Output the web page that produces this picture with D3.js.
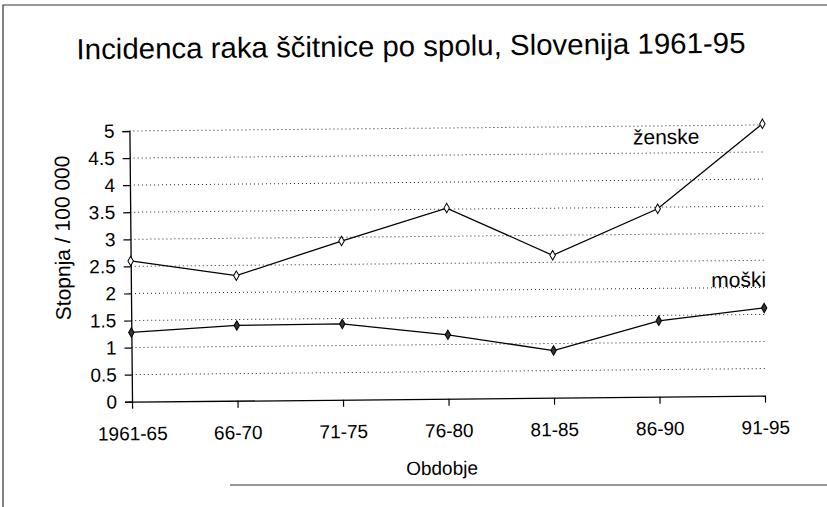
<!DOCTYPE html>
<meta charset="utf-8">
<style>

body, html{
    margin: 0;
    background: white;
}

text{
    font-family: "Liberation Sans", Arial, sans-serif;
    fill: black;
}

.grid line {
  stroke: #222;
  stroke-width: 1px;
  stroke-dasharray: 1,3;
}

.series path.line {
  fill: none;
  stroke: black;
  stroke-width: 1.3px;
}

</style>
<svg></svg>
<script src="https://d3js.org/d3.v7.min.js"></script>
<script>

// obdobja (kategorije na osi x)
var periods = ['1961-65', '66-70', '71-75', '76-80', '81-85', '86-90', '91-95'];

// incidenca na 100 000
var zenske = [2.6, 2.31, 2.93, 3.52, 2.63, 3.47, 5.02];
var moski = [1.28, 1.39, 1.4, 1.18, 0.87, 1.4, 1.62];

var yTicks = [0, 0.5, 1, 1.5, 2, 2.5, 3, 3.5, 4, 4.5, 5];

var width = 827;
var height = 507;

var svg = d3.select('svg')
  .attr('width', width)
  .attr('height', height);

// page edges of the scan
svg.append('path')
  .attr('d', 'M3,507 L3,5 L827,5 M230,485 L827,485')
  .attr('fill', 'none')
  .attr('stroke', '#333')
  .attr('stroke-width', 1.2);

// the scan is a little tilted
var g = svg.append('g')
  .attr('transform', 'rotate(-0.55 413 253)');

var x = d3.scalePoint().domain(periods).range([130.6, 763.6]).padding(0);
var y = d3.scaleLinear().domain([0, 5]).range([399, 128.3]);

g.append('text')
  .attr('x', 413)
  .attr('y', 56)
  .attr('text-anchor', 'middle')
  .attr('font-size', 29)
  .attr('textLength', 669)
  .attr('lengthAdjust', 'spacingAndGlyphs')
  .text('Incidenca raka ščitnice po spolu, Slovenija 1961-95');

// dotted gridlines
g.append('g')
  .attr('class', 'grid')
  .selectAll('line')
  .data(yTicks.filter(function (d) { return d > 0; }))
  .enter().append('line')
  .attr('x1', x.range()[0])
  .attr('x2', x.range()[1])
  .attr('y1', function (d) { return y(d); })
  .attr('y2', function (d) { return y(d); });

var yAxis = g.append('g')
  .attr('transform', 'translate(' + x.range()[0] + ',0)')
  .call(d3.axisLeft(y).tickValues(yTicks).tickSize(7).tickPadding(8).tickFormat(d3.format('')));

var xAxis = g.append('g')
  .attr('transform', 'translate(0,' + y(0) + ')')
  .call(d3.axisBottom(x).tickSize(7).tickSizeOuter(0).tickPadding(18));

[yAxis, xAxis].forEach(function (a) {
  a.select('.domain').attr('stroke', 'black').attr('stroke-width', 1.3);
  a.selectAll('.tick line').attr('stroke', 'black').attr('stroke-width', 1.2);
  a.selectAll('.tick text')
    .attr('font-family', '"Liberation Sans", Arial, sans-serif')
    .attr('font-size', 19)
    .attr('fill', 'black');
});

g.append('text')
  .attr('x', 440)
  .attr('y', 475)
  .attr('text-anchor', 'middle')
  .attr('font-size', 19)
  .text('Obdobje');

g.append('text')
  .attr('transform', 'translate(70,234.6) rotate(-90)')
  .attr('text-anchor', 'middle')
  .attr('font-size', 21)
  .text('Stopnja / 100 000');

var line = d3.line()
  .x(function (d, i) { return x(periods[i]); })
  .y(function (d) { return y(d); });

var diamond = d3.symbol().type(d3.symbolDiamond).size(26);

var series = [
  {name: 'ženske', values: zenske, fill: 'white', lx: 634, ly: 146.5},
  {name: 'moški', values: moski, fill: '#333', lx: 711, ly: 290}
];

series.forEach(function (s) {
  var sg = g.append('g').attr('class', 'series');

  sg.append('path')
    .attr('class', 'line')
    .attr('d', line(s.values));

  sg.selectAll('path.marker')
    .data(s.values)
    .enter().append('path')
    .attr('class', 'marker')
    .attr('transform', function (d, i) { return 'translate(' + x(periods[i]) + ',' + y(d) + ')'; })
    .attr('d', diamond)
    .attr('fill', s.fill)
    .attr('stroke', 'black')
    .attr('stroke-width', 1);

  sg.append('text')
    .attr('x', s.lx)
    .attr('y', s.ly)
    .attr('font-size', 21)
    .text(s.name);
});

</script>
